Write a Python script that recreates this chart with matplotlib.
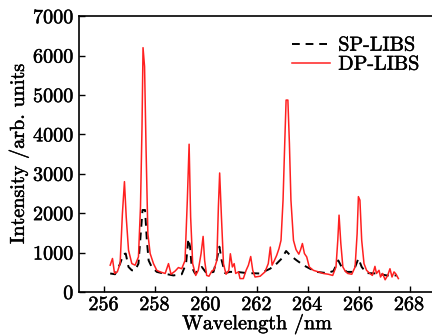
import numpy as np
import matplotlib
matplotlib.use('Agg')
import matplotlib.pyplot as plt
import matplotlib.patheffects as pe

plt.rcParams['font.family'] = ['cmr10', 'DejaVu Serif']
plt.rcParams['axes.formatter.use_mathtext'] = True
plt.rcParams['mathtext.fontset'] = 'cm'

# double pulse spectrum (wavelength nm, intensity)
dp_wl = [256.24, 256.33, 256.41, 256.52, 256.63, 256.72, 256.80, 256.87, 256.96, 257.09,
         257.22, 257.35, 257.43, 257.49, 257.53, 257.59, 257.65, 257.72, 257.81, 257.94,
         258.07, 258.20, 258.40, 258.53, 258.63, 258.79, 258.92, 259.05, 259.18, 259.27,
         259.34, 259.40, 259.48, 259.60, 259.70, 259.81, 259.89, 259.95, 260.03, 260.12,
         260.23, 260.32, 260.43, 260.49, 260.54, 260.61, 260.69, 260.79, 260.90, 260.96,
         261.04, 261.11, 261.17, 261.28, 261.34, 261.47, 261.58, 261.67, 261.76, 261.84,
         261.93, 262.13, 262.32, 262.45, 262.53, 262.60, 262.69, 262.78, 262.87, 262.95,
         263.03, 263.10, 263.15, 263.22, 263.28, 263.34, 263.44, 263.54, 263.65, 263.72,
         263.79, 263.87, 263.96, 264.06, 264.22, 264.42, 264.61, 264.81, 264.98, 265.11,
         265.18, 265.23, 265.30, 265.38, 265.47, 265.57, 265.73, 265.86, 265.94, 265.99,
         266.05, 266.12, 266.21, 266.31, 266.44, 266.54, 266.64, 266.70, 266.80, 266.86,
         266.94, 267.04, 267.14, 267.23, 267.31, 267.39, 267.47, 267.56]
dp_int = [680, 850, 470, 510, 720, 1990, 2800, 1900, 1060, 720,
          680, 890, 2160, 4190, 6200, 5720, 3600, 1480, 975, 720,
          550, 510, 470, 720, 450, 530, 620, 590, 800, 2330,
          3750, 1900, 720, 420, 550, 975, 1410, 800, 420, 400,
          530, 570, 800, 2160, 3020, 1900, 720, 450, 550, 970,
          635, 720, 470, 510, 340, 340, 550, 680, 900, 550,
          380, 400, 510, 720, 1140, 680, 800, 930, 1100, 1310,
          2330, 3850, 4870, 4870, 3770, 2330, 1310, 1075, 960, 1075,
          1230, 975, 890, 635, 550, 510, 470, 450, 420, 635,
          1310, 1950, 1230, 635, 530, 470, 450, 635, 1480, 2420,
          2330, 1310, 720, 550, 470, 420, 650, 470, 550, 380,
          470, 310, 420, 590, 380, 510, 450, 340]

# single pulse spectrum
sp_wl = [256.24, 256.43, 256.63, 256.76, 256.85, 256.96, 257.09, 257.22, 257.35, 257.44,
         257.51, 257.61, 257.68, 257.75, 257.87, 258.07, 258.33, 258.72, 259.05, 259.22,
         259.31, 259.38, 259.44, 259.57, 259.84, 260.03, 260.30, 260.45, 260.53, 260.62,
         260.75, 260.95, 261.21, 261.60, 262.13, 262.52, 262.78, 262.98, 263.15, 263.31,
         263.57, 263.83, 264.09, 264.35, 264.74, 265.01, 265.20, 265.33, 265.53, 265.79,
         265.99, 266.12, 266.31, 266.70, 267.10, 267.50]
sp_int = [470, 450, 720, 960, 975, 635, 550, 550, 720, 1480,
          2080, 2080, 1310, 800, 635, 510, 470, 420, 450, 720,
          1350, 1140, 635, 470, 635, 470, 510, 890, 1150, 800,
          480, 510, 510, 480, 470, 590, 720, 850, 1040, 930,
          800, 680, 590, 510, 480, 530, 800, 635, 510, 510,
          850, 635, 480, 470, 420, 420]

# slightly heavier glyphs for the text
heavy = [pe.withStroke(linewidth=0.35, foreground='black')]

fig = plt.figure(figsize=(4.32, 3.36), dpi=100)
ax = fig.add_axes([0.182, 0.131, 0.825, 0.821])

ax.plot(sp_wl, sp_int, color='black', lw=1.4, ls=(0, (4, 3)), label='SP-LIBS')
ax.plot(dp_wl, dp_int, color='#ff2020', lw=1.1, label='DP-LIBS')

ax.set_xlim(255, 269)
ax.set_ylim(0, 7000)
ax.set_xticks([256, 258, 260, 262, 264, 266, 268])
ax.set_yticks(range(0, 7001, 1000))
ax.tick_params(direction='in', length=4, width=1, labelsize=14.5, pad=3,
               top=False, right=False)
for lab in ax.get_xticklabels() + ax.get_yticklabels():
    lab.set_path_effects(heavy)
for s in ax.spines.values():
    s.set_linewidth(1.2)

ax.set_xlabel('Wavelength /nm', fontsize=14.5, labelpad=0, path_effects=heavy)
ax.set_ylabel('Intensity /arb. units', fontsize=14.5, labelpad=3, path_effects=heavy)

leg = ax.legend(loc='upper right', frameon=False, fontsize=14.5, handlelength=1.9,
                handletextpad=0.4, labelspacing=0.05, borderaxespad=0.2,
                bbox_to_anchor=(0.99, 0.97))
for t in leg.get_texts():
    t.set_path_effects(heavy)

fig.savefig('out.png', dpi=100)
